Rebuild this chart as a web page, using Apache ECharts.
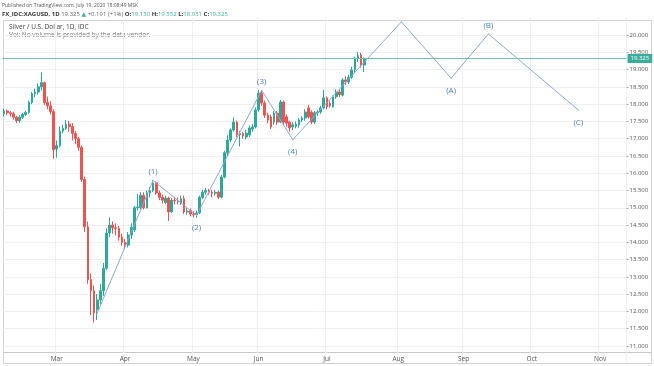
<!DOCTYPE html>
<html>
<head>
<meta charset="utf-8">
<script src="https://cdn.jsdelivr.net/npm/echarts@6/dist/echarts.min.js"></script>
<style>
html,body{margin:0;padding:0;background:#fff;}
#chart{width:654px;height:366px;}
</style>
</head>
<body>
<div id="chart"></div>
<script>
// ---- Data ----
const firstDay = '2020-02-06';
const lastDay = '2020-11-12';
const opens  = [17.72,17.80,17.75,17.72,17.62,17.52,17.62,17.70,17.76,18.05,18.30,18.35,18.50,18.62,18.05,17.95,17.78,16.70,16.80,17.22,17.30,17.42,17.35,17.15,17.00,16.75,15.82,14.45,12.92,12.60,12.05,12.33,12.60,13.25,14.27,14.50,14.42,14.40,14.15,14.00,13.92,14.21,14.36,15.00,15.00,15.36,15.00,15.43,15.50,15.72,15.43,15.30,15.15,15.28,14.88,15.22,15.20,15.15,15.26,14.88,14.92,14.82,14.80,14.85,15.30,15.45,15.48,15.45,15.42,15.45,15.31,15.89,16.59,16.96,17.25,17.48,17.11,17.15,17.05,17.11,17.28,17.34,17.83,18.32,18.03,17.68,17.63,17.48,17.74,17.48,18.06,17.63,17.48,17.34,17.36,17.40,17.54,17.60,17.89,17.77,17.48,17.75,17.77,17.89,18.18,18.02,17.92,18.21,18.35,18.26,18.70,18.64,18.78,18.99,19.33,19.42,19.130];
const highs  = [17.86,17.84,17.80,17.78,17.66,17.68,17.75,17.80,18.10,18.35,18.45,18.60,18.92,18.65,18.22,18.08,17.85,16.95,17.35,17.40,17.54,17.52,17.45,17.22,17.05,16.80,15.90,14.60,13.10,12.75,12.50,12.80,13.40,14.40,14.72,14.60,14.55,14.48,14.25,14.10,14.30,14.55,15.05,15.40,15.45,15.45,15.50,15.60,15.80,15.76,15.50,15.38,15.35,15.32,15.28,15.32,15.30,15.35,15.35,15.00,14.98,14.90,14.92,15.35,15.52,15.58,15.55,15.52,15.52,15.50,15.95,16.65,17.10,17.30,17.62,17.52,17.22,17.20,17.25,17.38,17.42,17.90,18.41,18.38,18.10,17.75,17.70,17.80,17.80,18.12,18.10,17.70,17.52,17.48,17.50,17.60,17.65,17.85,17.98,17.82,17.80,17.82,17.95,18.41,18.22,18.10,18.25,18.42,18.42,18.75,18.80,18.85,19.08,19.38,19.50,19.48,19.352];
const lows   = [17.65,17.68,17.64,17.55,17.45,17.46,17.57,17.65,17.72,18.00,18.20,18.28,18.40,17.98,17.85,17.70,16.42,16.45,16.75,17.15,17.25,17.20,16.95,16.85,16.65,15.75,14.30,12.80,11.90,11.68,11.75,12.20,12.45,13.20,14.15,14.25,14.20,14.05,13.90,13.80,13.85,14.10,14.30,14.92,14.95,14.95,14.98,15.30,15.45,15.38,15.22,15.12,15.10,14.62,14.85,15.10,15.10,15.08,14.82,14.80,14.75,14.72,14.72,14.82,15.25,15.38,15.38,15.30,15.35,15.25,15.28,15.85,16.50,16.90,17.20,17.05,16.78,17.00,16.98,17.05,17.20,17.30,17.78,17.95,17.60,17.45,17.28,17.40,17.40,17.45,17.40,17.35,17.20,17.25,17.30,17.32,17.48,17.52,17.58,17.42,17.42,17.66,17.72,17.85,17.85,17.90,17.90,18.15,18.20,18.22,18.55,18.58,18.72,18.92,19.22,19.05,18.931];
const closes = [17.80,17.75,17.72,17.62,17.52,17.62,17.70,17.76,18.05,18.30,18.35,18.50,18.62,18.05,17.95,17.78,16.68,16.80,17.22,17.30,17.42,17.35,17.15,17.00,16.75,15.82,14.45,12.92,12.60,11.96,12.33,12.60,13.25,14.27,14.50,14.42,14.40,14.15,14.00,13.92,14.21,14.44,15.00,15.02,15.36,15.00,15.43,15.50,15.72,15.43,15.30,15.22,15.28,14.88,15.22,15.20,15.18,15.26,14.88,14.90,14.82,14.80,14.85,15.30,15.45,15.50,15.45,15.42,15.45,15.31,15.89,16.59,16.96,17.25,17.48,17.11,17.15,17.08,17.16,17.31,17.34,17.83,18.32,18.03,17.68,17.54,17.34,17.74,17.48,18.06,17.48,17.45,17.31,17.40,17.42,17.54,17.60,17.77,17.63,17.48,17.75,17.77,17.89,18.18,17.92,17.95,18.21,18.35,18.28,18.70,18.64,18.78,18.99,19.33,19.40,19.13,19.325];

const waveDates  = ['2020-03-19','2020-04-14','2020-05-04','2020-06-02','2020-06-16','2020-08-04','2020-08-26','2020-09-11','2020-10-22'];
const wavePrices = [11.95,15.79,14.78,18.40,16.97,20.38,18.75,20.03,17.83];
const waveLabels = ['','(1)','(2)','(3)','(4)','','(A)','(B)','(C)'];
const waveLabelSide = ['','top','bottom','top','bottom','','bottom','top','bottom'];

const monthStarts = ['2020-03-02','2020-04-01','2020-05-01','2020-06-01','2020-07-01','2020-08-03','2020-09-01','2020-10-01','2020-11-02'];
const monthLabels = ['Mar','Apr','May','Jun','Jul','Aug','Sep','Oct','Nov'];

const headerPublished = 'Published on TradingView.com, July 19, 2020 18:08:49 MSK';
const symbolTitle = 'FX_IDC:XAGUSD, 1D';
const changeText = '+0.191 (+1%)';
const prevChange = '▲';
const seriesTitle = 'Silver / U.S. Dollar, 1D, IDC';
const volNote = 'Vol: No volume is provided by the data vendor.';

// ---- Build ----
function weekdays(start, end) {
  const out = [];
  const d = new Date(start + 'T00:00:00Z');
  const e = new Date(end + 'T00:00:00Z');
  while (d <= e) {
    const w = d.getUTCDay();
    if (w !== 0 && w !== 6) out.push(d.toISOString().slice(0, 10));
    d.setUTCDate(d.getUTCDate() + 1);
  }
  return out;
}
const categories = weekdays(firstDay, lastDay);
const candleData = opens.map((o, i) => [o, closes[i], lows[i], highs[i]]);
const lastO = opens[opens.length - 1], lastH = highs[highs.length - 1];
const lastL = lows[lows.length - 1], lastC = closes[closes.length - 1];
const isMonthStart = (v) => monthStarts.indexOf(v) >= 0;

const UP = '#2ea89a', DOWN = '#ec5452', TEAL = '#3aae9c';
const FONT = '"Open Sans", "DejaVu Sans", sans-serif';

const waveData = waveDates.map((d, i) => ({
  value: [d, wavePrices[i]],
  label: waveLabels[i] ? {
    show: true,
    formatter: waveLabels[i],
    position: waveLabelSide[i],
    distance: waveLabelSide[i] === 'top' ? 4 : 8,
    color: '#4f84c2',
    fontSize: 8,
    fontFamily: FONT
  } : { show: false }
}));

const chart = echarts.init(document.getElementById('chart'), null, { renderer: 'canvas' });
const option = {
  animation: false,
  backgroundColor: '#ffffff',
  textStyle: { fontFamily: FONT },
  grid: { left: 2.5, right: 27.5, top: 17.72, bottom: 2.72, containLabel: false },
  xAxis: {
    type: 'category',
    data: categories,
    boundaryGap: true,
    offset: -11.28,
    axisLine: { show: false },
    axisTick: { show: false },
    axisLabel: {
      interval: (idx, v) => isMonthStart(v),
      formatter: (v) => { const k = monthStarts.indexOf(v); return k >= 0 ? monthLabels[k] : ''; },
      fontSize: 6.5, color: '#555', margin: 3.5
    },
    splitLine: { show: true, interval: (idx, v) => isMonthStart(v), lineStyle: { color: '#eef0f4', width: 1 } }
  },
  yAxis: {
    type: 'value',
    position: 'right',
    min: 10.5, max: 20.5, interval: 0.5,
    axisLine: { show: false },
    axisTick: { show: true, length: 2, lineStyle: { color: '#aaa' } },
    axisLabel: { showMinLabel: false, showMaxLabel: false, formatter: (v) => v.toFixed(3), fontSize: 6, color: '#555', margin: 3 },
    splitLine: { show: true, showMinLine: false, showMaxLine: false, lineStyle: { color: '#eef0f4', width: 1 } }
  },
  graphic: [
    { type: 'rect', silent: true, z: 0, shape: { x: 3.5, y: 20.5, width: 648, height: 343 }, style: { fill: 'none', stroke: '#d3d3d3', lineWidth: 1 } },
    { type: 'line', silent: true, z: 0, shape: { x1: 626.5, y1: 20.5, x2: 626.5, y2: 363.5 }, style: { stroke: '#c9c9c9', lineWidth: 1 } },
    { type: 'line', silent: true, z: 0, shape: { x1: 3.5, y1: 352.5, x2: 651.5, y2: 352.5 }, style: { stroke: '#c9c9c9', lineWidth: 1 } },
    { type: 'text', silent: true, x: 2, y: 5.5, style: { text: headerPublished, fill: '#555', font: '5px ' + FONT, verticalAlign: 'middle' } },
    { type: 'text', silent: true, x: 2, y: 14, style: {
        text: '{b|' + symbolTitle + '} {n|' + lastC.toFixed(3) + '} {g|' + prevChange + '} {n|' + changeText + '} {b|O:}{g|' + lastO.toFixed(3) + '} {b|H:}{g|' + lastH.toFixed(3) + '} {b|L:}{g|' + lastL.toFixed(3) + '} {b|C:}{g|' + lastC.toFixed(3) + '}',
        verticalAlign: 'middle',
        font: '6px ' + FONT,
        rich: {
          b: { fontWeight: 'bold', fontSize: 6, fill: '#333', fontFamily: FONT },
          n: { fontSize: 6, fill: '#666', fontFamily: FONT },
          g: { fontSize: 6, fill: TEAL, fontFamily: FONT }
        }
    } },
    { type: 'text', silent: true, x: 9, y: 27.5, style: { text: seriesTitle, fill: '#444', font: '6.5px ' + FONT, verticalAlign: 'middle' } },
    { type: 'text', silent: true, x: 9, y: 35.5, style: { text: volNote, fill: '#777', font: '6.5px ' + FONT, verticalAlign: 'middle' } }
  ],
  series: [
    {
      type: 'candlestick',
      data: candleData,
      barWidth: 2.2,
      itemStyle: { color: UP, color0: DOWN, borderColor: UP, borderColor0: DOWN, borderWidth: 1 },
      markLine: {
        silent: true,
        symbol: 'none',
        data: [{ yAxis: lastC }],
        lineStyle: { color: '#6cc6b6', width: 1, type: 'solid' },
        label: { show: true, position: 'end', formatter: lastC.toFixed(3), color: '#fff', backgroundColor: TEAL, fontSize: 6, padding: [2, 3, 1, 3], distance: 1 }
      },
      z: 2
    },
    {
      type: 'line',
      data: waveData,
      symbol: 'circle',
      symbolSize: 1,
      showSymbol: true,
      itemStyle: { color: '#8fa9d6' },
      lineStyle: { color: '#8fa9d6', width: 1 },
      z: 3
    }
  ]
};
chart.setOption(option);
</script>
</body>
</html>
